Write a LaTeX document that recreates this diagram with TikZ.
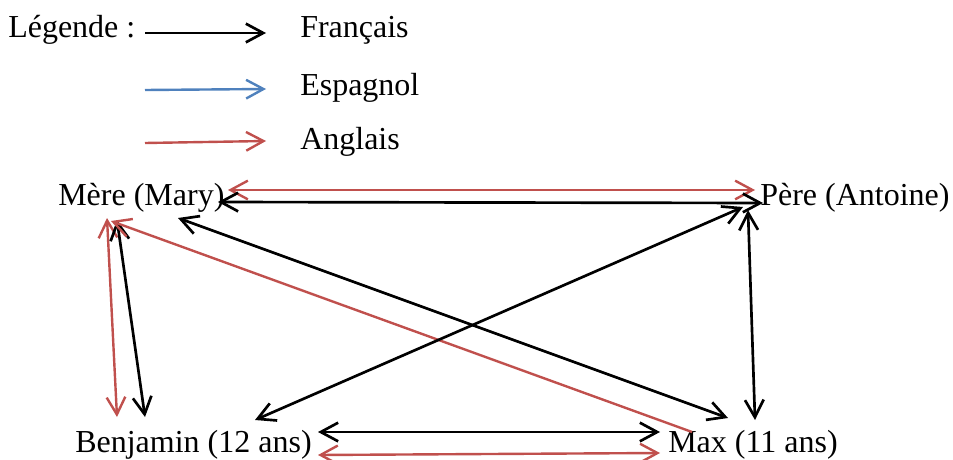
\documentclass[tikz,border=0pt]{standalone}
\usepackage{fontspec}
\setmainfont{Liberation Serif}
\usetikzlibrary{arrows.meta,calc}
\definecolor{fr}{RGB}{0,0,0}
\definecolor{es}{RGB}{79,129,189}
\definecolor{en}{RGB}{192,80,77}
\tikzset{
  lbl/.style={anchor=base west,inner sep=0pt,font=\fontsize{24}{28}\selectfont},
  head/.style={-{Straight Barb[length=13pt,width=14pt]}},
  heads/.style={{Straight Barb[length=13pt,width=14pt]}-{Straight Barb[length=13pt,width=14pt]}},
  french/.style={draw=fr,line width=2pt},
  spanish/.style={draw=es,line width=1.8pt},
  english/.style={draw=en,line width=1.8pt}
}
\begin{document}
\begin{tikzpicture}[x=0.75pt,y=-0.75pt]
\useasboundingbox (0,0) rectangle (953,460);
\node[lbl] (leg) at (8,38) {Légende :};
\node[lbl] (fra) at (300,38) {Français};
\node[lbl] (esp) at (300,95) {Espagnol};
\node[lbl] (ang) at (300,149) {Anglais};
\node[lbl] (mere) at (58,205) {Mère (Mary)};
\node[lbl] (pere) at (760,205) {Père (Antoine)};
\node[lbl] (benj) at (75,452) {Benjamin (12 ans)};
\node[lbl] (max) at (668,452) {Max (11 ans)};
% legend
\draw[french,head] ($(fra.base west)+(-155,-5)$) -- ($(fra.base west)+(-34,-5)$);
\draw[spanish,head] ($(esp.base west)+(-155,-5)$) -- ($(esp.base west)+(-34,-6)$);
\draw[english,head] ($(ang.base west)+(-155,-6)$) -- ($(ang.base west)+(-34,-8)$);
% family
\draw[english,heads] ($(mere.base west)+(170,-15)$) -- ($(pere.base west)+(-5,-15)$);
\draw[french,heads] ($(mere.base west)+(160,-3)$) -- ($(pere.base west)+(3,-2)$);
\draw[english,heads] ($(mere.base west)+(49,13)$) -- ($(benj.base west)+(42,-35)$);
\draw[french,heads] ($(mere.base west)+(59,15)$) -- ($(benj.base west)+(70,-35)$);
\draw[english,head] ($(max.base west)+(24,-20)$) -- ($(mere.base west)+(53,16)$);
\draw[french,heads] ($(mere.base west)+(120,13)$) -- ($(max.base west)+(60,-34)$);
\draw[french,heads] ($(pere.base west)+(-17,2)$) -- ($(benj.base west)+(180,-32)$);
\draw[french,heads] ($(pere.base west)+(-12,5)$) -- ($(max.base west)+(87,-32)$);
\draw[french,heads] ($(benj.base west)+(243,-20)$) -- ($(max.base west)+(-8,-20)$);
\draw[english,heads] ($(benj.base west)+(243,3)$) -- ($(max.base west)+(-8,1)$);
\end{tikzpicture}
\end{document}
